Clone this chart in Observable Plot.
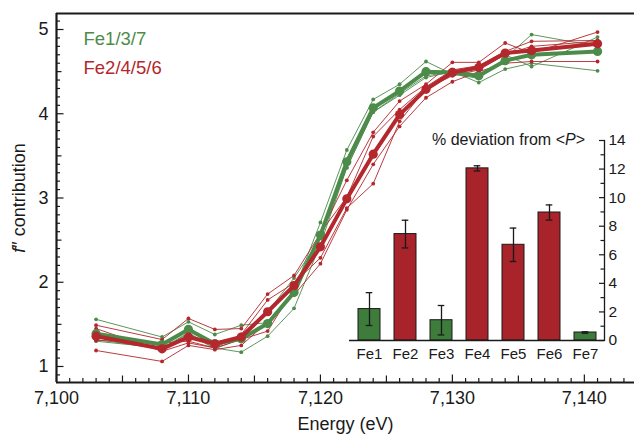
<!DOCTYPE html>
<html><head><meta charset="utf-8">
<script src="https://cdn.jsdelivr.net/npm/d3@7"></script>
<script src="https://cdn.jsdelivr.net/npm/@observablehq/plot@0.6"></script>
<style>
body{margin:0;background:#fff;}
#wrap{position:relative;width:634px;height:434px;overflow:hidden;font-family:"Liberation Sans",Arial,sans-serif;color:#1a1a1a;}
#wrap svg{position:absolute;}
#ylab{position:absolute;left:19px;top:197.5px;transform:translate(-50%,-50%) rotate(-90deg);white-space:nowrap;font-size:18px;line-height:1;}
#ititle{position:absolute;right:49px;top:131.5px;white-space:nowrap;font-size:16px;line-height:1;}
</style></head><body><div id="wrap"></div>
<script>
// ---- data ----
const energies = [7103, 7108, 7110, 7112, 7114, 7116, 7118, 7120, 7122, 7124, 7126, 7128, 7130, 7132, 7134, 7136, 7141];
const fe1 = [1.56, 1.35, 1.53, 1.38, 1.49, 1.52, 1.90, 2.71, 3.57, 4.17, 4.35, 4.62, 4.47, 4.42, 4.66, 4.94, 4.80];
const fe3 = [1.30, 1.22, 1.40, 1.22, 1.17, 1.36, 1.69, 2.45, 3.36, 4.02, 4.22, 4.43, 4.50, 4.37, 4.53, 4.60, 4.51];
const fe7 = [1.32, 1.21, 1.39, 1.21, 1.33, 1.65, 2.05, 2.52, 3.36, 4.02, 4.24, 4.45, 4.50, 4.56, 4.70, 4.56, 4.91];
const fe2 = [1.49, 1.32, 1.57, 1.44, 1.45, 1.86, 2.08, 2.58, 3.21, 3.78, 4.15, 4.35, 4.61, 4.61, 4.84, 4.72, 4.97];
const fe4 = [1.19, 1.06, 1.25, 1.20, 1.25, 1.53, 1.85, 2.22, 2.86, 3.40, 3.85, 4.19, 4.38, 4.50, 4.60, 4.62, 4.62];
const fe5 = [1.45, 1.18, 1.28, 1.22, 1.38, 1.79, 1.99, 2.29, 2.88, 3.17, 3.91, 4.30, 4.45, 4.52, 4.70, 4.80, 4.86];
const fe6 = [1.31, 1.28, 1.30, 1.22, 1.32, 1.42, 1.92, 2.59, 3.01, 3.73, 4.05, 4.32, 4.52, 4.57, 4.74, 4.86, 4.87];
const avgGreen = [1.39, 1.26, 1.44, 1.27, 1.33, 1.51, 1.88, 2.56, 3.43, 4.07, 4.27, 4.50, 4.49, 4.45, 4.63, 4.70, 4.74];
const avgRed = [1.36, 1.21, 1.35, 1.27, 1.35, 1.65, 1.96, 2.42, 2.99, 3.52, 3.99, 4.29, 4.49, 4.55, 4.72, 4.75, 4.83];
const legendLabels = ["Fe1/3/7", "Fe2/4/5/6"];

const sites = ["Fe1", "Fe2", "Fe3", "Fe4", "Fe5", "Fe6", "Fe7"];
const deviation = [2.2, 7.45, 1.42, 12.05, 6.7, 8.96, 0.56];
const deviationErr = [1.15, 0.97, 1.03, 0.18, 1.17, 0.53, 0.05];
const siteGroup = ["Fe1/3/7", "Fe2/4/5/6", "Fe1/3/7", "Fe2/4/5/6", "Fe2/4/5/6", "Fe2/4/5/6", "Fe1/3/7"];

const xTickValues = [7100, 7110, 7120, 7130, 7140];
const yTickValues = [1, 2, 3, 4, 5];
const insetTickValues = [0, 2, 4, 6, 8, 10, 12, 14];

// ---- styles ----
const green = "#4c8b49", red = "#b3272d";
const greenBar = "#3d7c3b", redBar = "#a8232a";
const font = '"Liberation Sans", Arial, sans-serif';

// ---- build tables ----
const mk = (name, arr) => arr.map((v, i) => ({series: name, e: energies[i], v}));
const thinGreen = [...mk("Fe1", fe1), ...mk("Fe3", fe3), ...mk("Fe7", fe7)];
const thinRed = [...mk("Fe2", fe2), ...mk("Fe4", fe4), ...mk("Fe5", fe5), ...mk("Fe6", fe6)];
const meanGreen = mk("avgG", avgGreen);
const meanRed = mk("avgR", avgRed);
const bars = sites.map((s, i) => ({site: s, dev: deviation[i], err: deviationErr[i], group: siteGroup[i]}));

const W = 634, H = 434, mL = 56, mR = 0, mT = 13, mB = 52;
const plotW = W - mL - mR, plotH = H - mT - mB;
const xDom = [7100, 7143.8], yDom = [0.81, 5.19];
const xMid = [7105, 7115, 7125, 7135];
const xMinor = d3.range(7101, 7144).filter(d => d % 5 !== 0);
const yHalf = [1.5, 2.5, 3.5, 4.5];
const yMinor = d3.range(9, 52).filter(i => i % 5 !== 0).map(i => i / 10);

const main = Plot.plot({
  width: W, height: H, marginLeft: mL, marginRight: mR, marginTop: mT, marginBottom: mB,
  style: {background: "transparent", fontFamily: font, fontSize: "18px", color: "#1a1a1a", overflow: "visible"},
  x: {domain: xDom},
  y: {domain: yDom},
  marks: [
    Plot.gridX({ticks: xTickValues, stroke: "#1a1a1a", strokeOpacity: 1, strokeWidth: 1.2, insetTop: plotH - 7.5}),
    Plot.gridX({ticks: xMid, stroke: "#1a1a1a", strokeOpacity: 1, strokeWidth: 1.2, insetTop: plotH - 6.5}),
    Plot.gridX({ticks: xMinor, stroke: "#1a1a1a", strokeOpacity: 1, strokeWidth: 1.2, insetTop: plotH - 4}),
    Plot.gridY({ticks: yTickValues, stroke: "#1a1a1a", strokeOpacity: 1, strokeWidth: 1.2, insetRight: plotW - 7.5}),
    Plot.gridY({ticks: yHalf, stroke: "#1a1a1a", strokeOpacity: 1, strokeWidth: 1.2, insetRight: plotW - 5.5}),
    Plot.gridY({ticks: yMinor, stroke: "#1a1a1a", strokeOpacity: 1, strokeWidth: 1.2, insetRight: plotW - 4}),
    Plot.ruleY([yDom[0], yDom[1]], {stroke: "#1a1a1a", strokeWidth: 2.2}),
    Plot.ruleX([xDom[0]], {stroke: "#1a1a1a", strokeWidth: 2.2}),
    Plot.axisX({ticks: xTickValues, tickSize: 0, tickPadding: 9, tickFormat: d3.format(","), label: null}),
    Plot.axisY({ticks: yTickValues, tickSize: 0, tickPadding: 8, tickFormat: d3.format("d"), label: null}),
    Plot.line(thinGreen, {x: "e", y: "v", z: "series", stroke: green, strokeWidth: 1, strokeOpacity: 0.9}),
    Plot.dot(thinGreen, {x: "e", y: "v", r: 1.9, fill: green}),
    Plot.line(thinRed, {x: "e", y: "v", z: "series", stroke: red, strokeWidth: 1, strokeOpacity: 0.9}),
    Plot.dot(thinRed, {x: "e", y: "v", r: 1.9, fill: red}),
    Plot.line(meanGreen, {x: "e", y: "v", stroke: green, strokeWidth: 4}),
    Plot.dot(meanGreen, {x: "e", y: "v", r: 4.6, fill: green}),
    Plot.line(meanRed, {x: "e", y: "v", stroke: red, strokeWidth: 4}),
    Plot.dot(meanRed, {x: "e", y: "v", r: 4.6, fill: red}),
    Plot.text([legendLabels[0]], {frameAnchor: "top-left", text: d => d, textAnchor: "start", lineAnchor: "middle", dx: 27, dy: 26, fill: green, fontSize: 18.5}),
    Plot.text([legendLabels[1]], {frameAnchor: "top-left", text: d => d, textAnchor: "start", lineAnchor: "middle", dx: 27, dy: 55, fill: red, fontSize: 18.5}),
    Plot.text(["Energy (eV)"], {frameAnchor: "bottom", text: d => d, lineAnchor: "middle", dy: 42, fontSize: 18})
  ]
});
main.style.left = "0px"; main.style.top = "0px";

const iL = 330, iT = 120, iW = 300, iH = 250;
const imL = 349 - iL, imR = iL + iW - 604, imT = 140 - iT, imB = iT + iH - 340;
const iPlotW = iW - imL - imR;
const oddTicks = [1, 3, 5, 7, 9, 11, 13];
const inset = Plot.plot({
  width: iW, height: iH, marginLeft: imL, marginRight: imR, marginTop: imT, marginBottom: imB,
  style: {background: "transparent", fontFamily: font, fontSize: "15.5px", color: "#1a1a1a", overflow: "visible"},
  x: {domain: sites, paddingInner: 0.39, paddingOuter: 0.17},
  y: {domain: [0, 14]},
  color: {domain: legendLabels, range: [greenBar, redBar]},
  marks: [
    Plot.barY(bars, {x: "site", y: "dev", fill: "group", stroke: "#1a1a1a", strokeWidth: 1}),
    Plot.ruleX(bars, {x: "site", y1: d => d.dev - d.err, y2: d => d.dev + d.err, stroke: "#1a1a1a", strokeWidth: 1.3}),
    Plot.tickY(bars, {x: "site", y: d => d.dev - d.err, insetLeft: 7.7, insetRight: 7.7, stroke: "#1a1a1a", strokeWidth: 1.3}),
    Plot.tickY(bars, {x: "site", y: d => d.dev + d.err, insetLeft: 7.7, insetRight: 7.7, stroke: "#1a1a1a", strokeWidth: 1.3}),
    Plot.ruleY([0], {stroke: "#1a1a1a", strokeWidth: 1.3}),
    Plot.frame({anchor: "right", stroke: "#1a1a1a", strokeWidth: 1.3}),
    Plot.gridY({ticks: insetTickValues, stroke: "#1a1a1a", strokeOpacity: 1, strokeWidth: 1.2, insetLeft: iPlotW - 5}),
    Plot.gridY({ticks: oddTicks, stroke: "#1a1a1a", strokeOpacity: 1, strokeWidth: 1.2, insetLeft: iPlotW - 3.5}),
    Plot.axisY({anchor: "right", ticks: insetTickValues, tickSize: 0, tickPadding: 4, label: null}),
    Plot.axisX({tickSize: 0, tickPadding: 8, label: null, fontSize: 15})
  ]
});
inset.style.left = iL + "px"; inset.style.top = iT + "px";

const wrap = document.getElementById("wrap");
wrap.appendChild(main);
wrap.appendChild(inset);
const yl = document.createElement("div");
yl.id = "ylab";
yl.innerHTML = "<i>f</i>″ contribution";
wrap.appendChild(yl);
const it = document.createElement("div");
it.id = "ititle";
it.innerHTML = "% deviation from &lt;<i>P</i>&gt;";
wrap.appendChild(it);
</script>
</body></html>
